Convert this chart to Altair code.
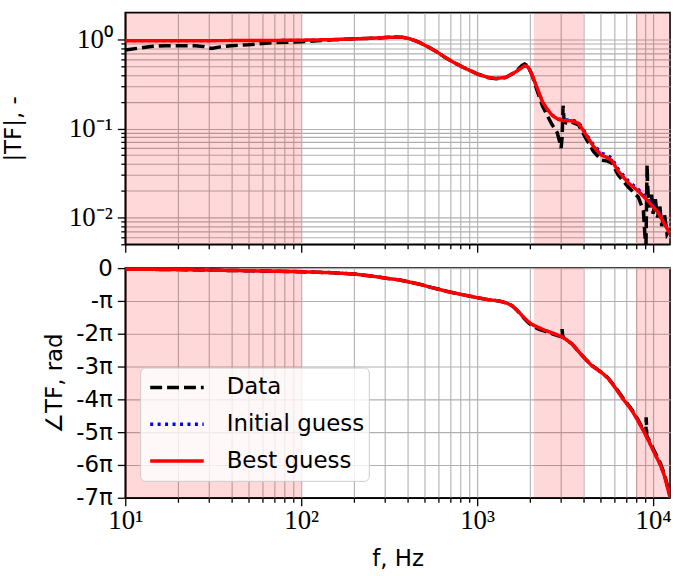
import altair as alt
import pandas as pd

# ---------------- data ----------------
series_names = ["Data", "Initial guess", "Best guess"]
series_colors = ["#000000", "#0000ff", "#ff0000"]

band_start = [10, 2100, 8000]
band_end = [100, 4000, 13000]

# magnitude |TF|
f_mag_best = [10, 20, 40, 70, 100, 150, 200, 250, 300, 350, 380, 405, 431, 470, 535, 600, 665, 740,
              826, 1000, 1150, 1280, 1450, 1650, 1860, 1950, 2050, 2200, 2350, 2500, 2670, 2900,
              3150, 3450, 3770, 4110, 4580, 5100, 5500, 5810, 6340, 7220, 8230, 9370, 10670,
              11600, 12500]
mag_best = [0.965, 0.968, 0.97, 0.975, 0.98, 0.995, 1.015, 1.03, 1.05, 1.065, 1.055, 1.03, 0.99,
            0.925, 0.81, 0.71, 0.62, 0.55, 0.49, 0.41, 0.375, 0.365, 0.375, 0.43, 0.505, 0.49,
            0.40, 0.28, 0.2, 0.165, 0.14, 0.126, 0.122, 0.122, 0.114, 0.088, 0.063, 0.05, 0.047,
            0.044, 0.033, 0.0245, 0.0198, 0.0153, 0.0114, 0.0085, 0.0065]

f_mag_init = [10, 20, 40, 70, 100, 150, 200, 250, 300, 350, 380, 405, 431, 470, 535, 600, 665, 740,
              826, 1000, 1150, 1280, 1450, 1650, 1860, 1950, 2050, 2200, 2350, 2500, 2670, 2900,
              3150, 3450, 3770, 4110, 4580, 5100, 5500, 5810, 6340, 7220, 8230, 9370, 10670,
              11600, 12500]
mag_init = [0.965, 0.968, 0.97, 0.975, 0.98, 0.995, 1.015, 1.03, 1.05, 1.065, 1.055, 1.03, 0.99,
            0.925, 0.81, 0.71, 0.62, 0.55, 0.49, 0.41, 0.375, 0.365, 0.375, 0.43, 0.505, 0.49,
            0.40, 0.28, 0.2, 0.166, 0.142, 0.128, 0.125, 0.125, 0.118, 0.091, 0.066, 0.053, 0.05,
            0.047, 0.035, 0.026, 0.0208, 0.016, 0.012, 0.0089, 0.0068]

f_mag_data = [10, 12, 14, 17, 20, 25, 28, 31, 34, 40, 50, 60, 70, 85, 100, 130, 150, 200, 250, 300,
              350, 380, 405, 431, 470, 535, 600, 665, 740, 826, 1000, 1150, 1280, 1450, 1650, 1800,
              1860, 1950, 2050, 2200, 2350, 2500, 2670, 2850, 2950, 3000, 3040, 3080, 3120, 3200,
              3350, 3450, 3770, 4110, 4580, 5100, 5500, 5810, 6340, 7220, 8230, 8800, 9000, 9100,
              9200, 9250, 9300, 9400, 9600, 9800, 10000, 10300, 10600, 10900, 11200, 11600, 12000,
              12500]
mag_data = [0.76, 0.80, 0.835, 0.85, 0.85, 0.85, 0.83, 0.79, 0.82, 0.85, 0.87, 0.9, 0.92, 0.93,
            0.94, 0.97, 0.99, 1.015, 1.03, 1.05, 1.065, 1.055, 1.03, 0.99, 0.925, 0.81, 0.71,
            0.62, 0.55, 0.49, 0.41, 0.373, 0.362, 0.372, 0.43, 0.51, 0.53, 0.5, 0.40, 0.26, 0.18,
            0.14, 0.11, 0.09, 0.07, 0.06, 0.08, 0.18, 0.12, 0.115, 0.112, 0.118, 0.11, 0.08,
            0.055, 0.044, 0.043, 0.041, 0.03, 0.022, 0.017, 0.012, 0.006, 0.004, 0.02, 0.039,
            0.025, 0.016, 0.013, 0.018, 0.011, 0.016, 0.010, 0.014, 0.008, 0.011, 0.0065, 0.0075]

# phase, in units of pi
f_ph_best = [10, 20, 50, 100, 150, 200, 250, 305, 362, 470, 559, 700, 862, 1000, 1150, 1331, 1480,
             1585, 1700, 1803, 1920, 2052, 2250, 2443, 2750, 3034, 3250, 3459, 3750, 4112, 4500,
             4887, 5200, 5569, 6100, 6622, 7550, 8200, 8980, 9600, 10210, 11000, 11630, 12500]
ph_best = [-0.03, -0.045, -0.08, -0.11, -0.14, -0.18, -0.24, -0.31, -0.36, -0.49, -0.6, -0.73,
           -0.83, -0.9, -0.96, -1.0, -1.07, -1.15, -1.3, -1.45, -1.6, -1.72, -1.82, -1.9, -2.0,
           -2.09, -2.2, -2.31, -2.53, -2.77, -2.98, -3.12, -3.22, -3.37, -3.65, -3.93, -4.33,
           -4.65, -5.04, -5.35, -5.65, -6.0, -6.35, -7.0]

f_ph_init = [10, 20, 50, 100, 150, 200, 250, 305, 362, 470, 559, 700, 862, 1000, 1150, 1331, 1480,
             1585, 1700, 1803, 1920, 2052, 2250, 2443, 2750, 3034, 3250, 3459, 3750, 4112, 4500,
             4887, 5200, 5569, 6100, 6622, 7550, 8200, 8980, 9600, 10210, 11000, 11630, 12500]
ph_init = [-0.03, -0.045, -0.08, -0.11, -0.14, -0.18, -0.24, -0.31, -0.36, -0.49, -0.6, -0.73,
           -0.83, -0.9, -0.96, -1.0, -1.07, -1.15, -1.3, -1.45, -1.6, -1.72, -1.82, -1.9, -2.0,
           -2.09, -2.2, -2.31, -2.53, -2.77, -2.98, -3.12, -3.22, -3.37, -3.65, -3.93, -4.33,
           -4.65, -5.04, -5.35, -5.65, -6.0, -6.35, -7.0]

f_ph_data = [10, 20, 50, 100, 150, 200, 250, 305, 362, 470, 559, 700, 862, 1000, 1150, 1331, 1480,
             1585, 1700, 1803, 1920, 2052, 2250, 2443, 2750, 2950, 3020, 3040, 3060, 3120, 3250,
             3459, 3750, 4112, 4500, 4887, 5200, 5569, 6100, 6622, 7550, 8200, 8900, 9100, 9130,
             9180, 9200, 9600, 10210, 11000, 11630, 12500]
ph_data = [-0.03, -0.045, -0.08, -0.11, -0.14, -0.18, -0.24, -0.31, -0.36, -0.49, -0.6, -0.73,
           -0.83, -0.9, -0.96, -1.0, -1.07, -1.15, -1.31, -1.47, -1.63, -1.76, -1.87, -1.93,
           -2.03, -2.08, -2.09, -1.86, -2.05, -2.13, -2.21, -2.31, -2.53, -2.76, -2.97, -3.11,
           -3.21, -3.36, -3.63, -3.9, -4.3, -4.62, -4.98, -5.08, -4.55, -4.8, -5.1, -5.3, -5.6,
           -5.95, -6.3, -6.95]

# ---------------- tables ----------------
def long_table(fs, vals, name):
    return pd.DataFrame({"f": fs, "v": vals, "series": name})

mag_df = pd.concat([
    long_table(f_mag_data, mag_data, "Data"),
    long_table(f_mag_init, mag_init, "Initial guess"),
    long_table(f_mag_best, mag_best, "Best guess"),
])
ph_df = pd.concat([
    long_table(f_ph_data, ph_data, "Data"),
    long_table(f_ph_init, ph_init, "Initial guess"),
    long_table(f_ph_best, ph_best, "Best guess"),
])
bands_df = pd.DataFrame({"start": band_start, "end": band_end})

# ---------------- styling helpers ----------------
X_DOMAIN = [10, 12480]
W = 548
TICK_FONT = "Liberation Serif"
TEXT_FONT = "DejaVu Sans"
GRID = "#b0b0b0"

xticks = [m * 10 ** e for e in range(1, 5) for m in range(1, 10) if m * 10 ** e <= X_DOMAIN[1]]
yticks_mag = [m * 10.0 ** e for e in range(-3, 1) for m in range(1, 10)
              if 0.005 <= m * 10.0 ** e < 2.0]
x_major = "datum.value == 10 || datum.value == 100 || datum.value == 1000 || datum.value == 10000"
y_major = "datum.value == 1 || abs(datum.value - 0.1) < 1e-9 || abs(datum.value - 0.01) < 1e-9"

common_axis = dict(
    grid=True, gridColor=GRID, gridWidth=1.1, gridOpacity=1,
    domainColor="black", domainWidth=1.6,
    tickColor="black", tickWidth=1.3,
    labelColor="black", titleColor="black", titleFontWeight="normal",
    labelOverlap=False, labelFlush=False, labelBound=False,
)


def x_axis(show):
    kw = dict(common_axis)
    kw.update(values=xticks,
              tickSize={"condition": {"test": x_major, "value": 8}, "value": 4.5})
    if show:
        kw.update(
            labels=True,
            labelExpr="datum.value == 10 ? '10¹' : datum.value == 100 ? '10²' : "
                      "datum.value == 1000 ? '10³' : datum.value == 10000 ? '10⁴' : ''",
            labelFont=TICK_FONT, labelFontSize=27, labelPadding=2,
            title="f, Hz", titleFont=TEXT_FONT, titleFontSize=23, titlePadding=14,
        )
    else:
        kw.update(labels=False, title="")
    return alt.Axis(**kw)


def x_enc(field, show):
    return alt.X(f"{field}:Q", scale=alt.Scale(type="log", domain=X_DOMAIN, nice=False),
                 axis=x_axis(show), title="f, Hz" if show else "")


def bands(show):
    return alt.Chart(bands_df).mark_rect(color="red", opacity=0.15, clip=True).encode(
        x=x_enc("start", show), x2="end:Q")


legend = alt.Legend(
    title=None, orient="none", legendX=15, legendY=100,
    symbolType="stroke", symbolSize=2900, symbolStrokeWidth=3.5, symbolOffset=4,
    labelFont=TEXT_FONT, labelFontSize=23, labelColor="black", labelOffset=21, labelLimit=400,
    padding=4, rowPadding=5, clipHeight=32,
    fillColor="rgba(255,255,255,0.8)", strokeColor="#cccccc", cornerRadius=5,
)

dash_range = [[12, 5], [3, 4.5], [1, 0]]
width_map = {"Data": 3.5, "Initial guess": 3, "Best guess": 3.5}


def lines(df, yenc, show_x, with_legend):
    layers = []
    for name in series_names:
        c = alt.Chart(df).transform_filter(alt.datum.series == name).mark_line(
            clip=True, strokeWidth=width_map[name], strokeCap="butt"
        ).encode(
            x=x_enc("f", show_x),
            y=yenc,
            color=alt.Color("series:N",
                            scale=alt.Scale(domain=series_names, range=series_colors),
                            legend=legend if with_legend else None),
            strokeDash=alt.StrokeDash("series:N",
                                      scale=alt.Scale(domain=series_names, range=dash_range),
                                      legend=legend if with_legend else None),
            order=alt.Order("f:Q"),
        )
        layers.append(c)
    return layers


# top panel: magnitude
mag_axis = dict(common_axis)
mag_axis.update(
    values=yticks_mag,
    tickSize={"condition": {"test": y_major, "value": 8}, "value": 4.5},
    labelExpr="datum.value == 1 ? '10⁰' : abs(datum.value - 0.1) < 1e-9 ? '10⁻¹' : "
              "abs(datum.value - 0.01) < 1e-9 ? '10⁻²' : ''",
    labelFont=TICK_FONT, labelFontSize=27, labelPadding=5,
    title="|TF|, -", titleFont=TEXT_FONT, titleFontSize=23,
    titleX=-105, titleBaseline="alphabetic",
)
y_mag = alt.Y("v:Q", scale=alt.Scale(type="log", domain=[0.005, 2.0], nice=False),
              axis=alt.Axis(**mag_axis), title="|TF|, -")

top = alt.layer(bands(False), *lines(mag_df, y_mag, False, False)).properties(width=W, height=233)

# bottom panel: phase
ph_axis = dict(common_axis)
ph_axis.update(
    values=[0, -1, -2, -3, -4, -5, -6, -7], tickSize=8,
    labelExpr="datum.value == 0 ? '0' : datum.value == -1 ? '-π' : '-' + (-datum.value) + 'π'",
    labelFont=TEXT_FONT, labelFontSize=23, labelPadding=5,
    title="∠TF, rad", titleFont=TEXT_FONT, titleFontSize=23,
    titleX=-64, titleBaseline="alphabetic",
)
y_ph = alt.Y("v:Q", scale=alt.Scale(domain=[-7, 0], nice=False),
             axis=alt.Axis(**ph_axis), title="∠TF, rad")

bottom = alt.layer(bands(True), *lines(ph_df, y_ph, True, True)).properties(width=W, height=231)

chart = alt.vconcat(top, bottom, spacing=24, bounds="flush").resolve_scale(
    color="independent", strokeDash="independent"
).properties(
    padding={"left": 2, "top": 10, "right": 2, "bottom": 4}
).configure_view(stroke="black", strokeWidth=1.6)

chart.save("out.html", embed_options={"renderer": "svg", "actions": False})
